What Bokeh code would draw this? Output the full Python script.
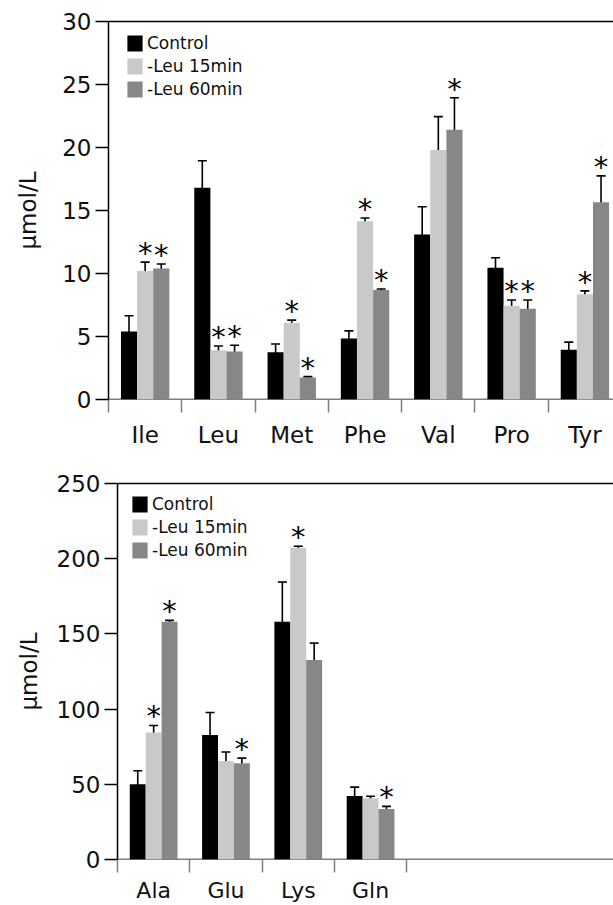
import numpy as np
from bokeh.plotting import figure
from bokeh.models import (ColumnDataSource, Range1d, FixedTicker, Whisker, TeeHead,
                          Legend, LegendItem, Span, LinearAxis, CustomJSTickFormatter)
from bokeh.layouts import column
from bokeh.core.properties import value
from bokeh.embed import file_html
from bokeh.resources import INLINE

# ---------------- data ----------------
categories_top = ["Ile", "Leu", "Met", "Phe", "Val", "Pro", "Tyr"]
control_top = [5.4, 16.8, 3.75, 4.85, 13.1, 10.45, 3.95]
control_err_top = [1.25, 2.15, 0.65, 0.6, 2.2, 0.8, 0.6]
leu15_top = [10.2, 3.9, 6.1, 14.15, 19.8, 7.45, 8.35]
leu15_err_top = [0.7, 0.35, 0.2, 0.25, 2.65, 0.45, 0.27]
leu60_top = [10.4, 3.8, 1.75, 8.7, 21.4, 7.2, 15.65]
leu60_err_top = [0.35, 0.5, 0.07, 0.07, 2.55, 0.7, 2.1]
sig15_top = [1, 1, 1, 1, 0, 1, 1]
sig60_top = [1, 1, 1, 1, 1, 1, 1]
yticks_top = [0, 5, 10, 15, 20, 25, 30]

categories_bot = ["Ala", "Glu", "Lys", "Gln"]
control_bot = [50, 82.7, 158, 42.3]
control_err_bot = [9, 15, 26.5, 5.8]
leu15_bot = [84.5, 65.5, 207.3, 40.8]
leu15_err_bot = [4.6, 6, 1, 1.3]
leu60_bot = [158, 64, 132.7, 33.5]
leu60_err_bot = [1, 3.4, 11.2, 1.8]
sig15_bot = [1, 0, 1, 0]
sig60_bot = [1, 1, 0, 1]
yticks_bot = [0, 50, 100, 150, 200, 250]

series_names = ["Control", "-Leu 15min", "-Leu 60min"]
colors = ["#000000", "#c9c9c9", "#878787"]
FONT = "DejaVu Sans"
BW = 0.22


def make_panel(cats, vals, errs, sigs, yticks, ymax, xmax, height,
               b_left, b_top, b_bottom, legend_loc, ylab_standoff,
               xlab_size, xlab_standoff):
    p = figure(width=613, height=height, output_backend="svg", toolbar_location=None,
               x_range=Range1d(0, xmax), y_range=Range1d(0, ymax),
               min_border_left=b_left, min_border_right=0,
               min_border_top=b_top, min_border_bottom=b_bottom)
    p.frame_align = False
    p.outline_line_color = None
    p.grid.visible = False
    p.background_fill_color = "white"
    p.border_fill_color = "white"

    # baseline under the bars
    p.add_layout(Span(location=0, dimension="width", line_color="black",
                      line_width=1.5, level="underlay"))

    offsets = [-BW, 0, BW]
    renderers = []
    n = len(cats)
    for k in range(3):
        xs = [i + 0.5 + offsets[k] for i in range(n)]
        src = ColumnDataSource(dict(x=xs, top=vals[k],
                                    upper=[v + e for v, e in zip(vals[k], errs[k])],
                                    lower=[v - e for v, e in zip(vals[k], errs[k])]))
        r = p.vbar(x="x", top="top", width=BW, source=src, fill_color=colors[k],
                   line_color=None)
        renderers.append(r)
        p.add_layout(Whisker(source=src, base="x", upper="upper", lower="lower",
                             line_color="black", line_width=1.6,
                             upper_head=TeeHead(size=9, line_width=1.6, line_color="black"),
                             lower_head=TeeHead(size=9, line_width=1.6, line_color="black")))
        if k > 0:
            sx = [x for x, s in zip(xs, sigs[k - 1]) if s]
            sy = [v + e for v, e, s in zip(vals[k], errs[k], sigs[k - 1]) if s]
            p.text(x=sx, y=sy, text=["*"] * len(sx), text_font=value(FONT),
                   text_font_size="29px", text_align="center",
                   text_baseline="alphabetic", y_offset=-9, text_color="black")

    # y axis
    ya = p.yaxis[0]
    ya.ticker = FixedTicker(ticks=yticks, minor_ticks=[])
    ya.axis_line_width = 1.5
    ya.axis_line_color = "black"
    ya.major_tick_line_width = 1.5
    ya.major_tick_line_color = "black"
    ya.major_tick_out = 13
    ya.major_tick_in = 0
    ya.minor_tick_line_color = None
    ya.major_label_text_font = FONT
    ya.major_label_text_font_size = "23px"
    ya.major_label_text_color = "#111111"
    ya.major_label_standoff = 4
    ya.axis_label = "\u03bcmol/L"
    ya.axis_label_text_font = FONT
    ya.axis_label_text_font_size = "23px"
    ya.axis_label_text_font_style = "normal"
    ya.axis_label_text_color = "#111111"
    ya.axis_label_standoff = ylab_standoff

    # x axis
    xa = p.xaxis[0]
    xa.ticker = FixedTicker(ticks=[i + 0.5 for i in range(n)],
                            minor_ticks=[float(i) for i in range(n + 1)])
    xa.formatter = CustomJSTickFormatter(args=dict(labels=cats),
                                         code="return labels[Math.floor(tick)];")
    xa.axis_line_color = None
    xa.major_tick_line_color = None
    xa.major_tick_out = 0
    xa.major_tick_in = 0
    xa.minor_tick_line_color = "#7f7f7f"
    xa.minor_tick_line_width = 1.5
    xa.minor_tick_out = 13
    xa.minor_tick_in = 0
    xa.major_label_text_font = FONT
    xa.major_label_text_font_size = xlab_size
    xa.major_label_text_color = "#111111"
    xa.major_label_standoff = xlab_standoff

    # top border line
    top_ax = LinearAxis(ticker=FixedTicker(ticks=[], minor_ticks=[]),
                        axis_line_color="black", axis_line_width=1.5,
                        major_tick_out=0, major_tick_in=0, minor_tick_out=0,
                        minor_tick_in=0, major_label_text_font_size="0px")
    p.add_layout(top_ax, "above")

    legend = Legend(items=[LegendItem(label=series_names[k], renderers=[renderers[k]])
                           for k in range(3)],
                    location=legend_loc, orientation="vertical",
                    border_line_color=None, background_fill_alpha=0,
                    padding=0, margin=0, spacing=3, glyph_width=19, glyph_height=20,
                    label_standoff=3, label_height=16,
                    label_text_font=FONT, label_text_font_size="17px",
                    label_text_color="#111111")
    p.add_layout(legend)
    return p


p1 = make_panel(categories_top,
                [control_top, leu15_top, leu60_top],
                [control_err_top, leu15_err_top, leu60_err_top],
                [sig15_top, sig60_top], yticks_top, 30, 6.89, 450,
                108, 21, 51, (17, 300), 18, "23px", 9)

p2 = make_panel(categories_bot,
                [control_bot, leu15_bot, leu60_bot],
                [control_err_bot, leu15_err_bot, leu60_err_bot],
                [sig15_bot, sig60_bot], yticks_bot, 250, 6.86, 455,
                117, 33, 44, (13, 299), 12, "22px", 5)

layout = column(p1, p2, spacing=0)
open("out.html", "w").write(file_html(layout, INLINE))
